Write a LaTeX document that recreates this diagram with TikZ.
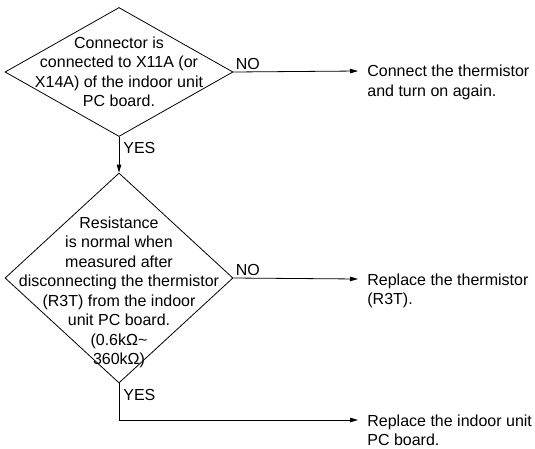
\documentclass[tikz,border=0pt]{standalone}
\usepackage{fontspec}
\setmainfont{Liberation Sans}
\usepackage{tikz}
\usetikzlibrary{arrows.meta}
\usetikzlibrary{shapes.geometric}
\usetikzlibrary{positioning}

\begin{document}
\begin{tikzpicture}[x=1pt,y=-1pt,>={Triangle[length=8pt,width=4.5pt]},line width=0.8pt,
                    font=\fontsize{16}{19.5}\selectfont]
  \tikzstyle{decision}=[draw=black, shape=diamond, minimum width=228pt, inner sep=0pt]
  \tikzstyle{answer}=[inner sep=0pt]
  \tikzstyle{action}=[inner sep=0pt, anchor=north west, align=left]
  \useasboundingbox (0,0) rectangle (535,448);
  % the two checks
  \node[decision, minimum height=129pt,
        label={[align=center]center:Connector is\\connected to X11A (or\\X14A) of the indoor unit\\PC board.}] (Q1) at (119,72) {};
  \node[decision, minimum height=210pt,
        label={[align=center, yshift=-14.5pt]center:Resistance\\is normal when\\measured after\\disconnecting the thermistor\\(R3T) from the indoor\\unit PC board.\\(0.6kΩ\textasciitilde\\360kΩ)}] (Q2) at (119,278) {};
  % what to do
  \node[action] (A1) at (367,65) {Connect the thermistor\\and turn on again.};
  \node[action] (A2) at (367,273) {Replace the thermistor\\(R3T).};
  \node[action] (A3) at (367,414) {Replace the indoor unit\\PC board.};
  % answers
  \node[answer, anchor=south west] (N1) at ([xshift=2pt,yshift=1.5pt]Q1.east) {NO};
  \node[answer, anchor=south west] (N2) at ([xshift=2pt,yshift=1.5pt]Q2.east) {NO};
  \node[answer, anchor=north west] (Y1) at ([xshift=4pt,yshift=-5pt]Q1.south) {YES};
  \node[answer, anchor=north west] (Y2) at ([xshift=4pt,yshift=-6pt]Q2.south) {YES};
  % connectors
  \draw[->] (Q1.east) -- ([xshift=-9pt,yshift=-6pt]A1.north west);
  \draw[->] (Q1.south) -- (Q2.north);
  \draw[->] (Q2.east) -- ([xshift=-9pt,yshift=-6pt]A2.north west);
  \draw[->] (Q2.south) |- ([xshift=-9pt,yshift=-6pt]A3.north west);
\end{tikzpicture}
\end{document}
